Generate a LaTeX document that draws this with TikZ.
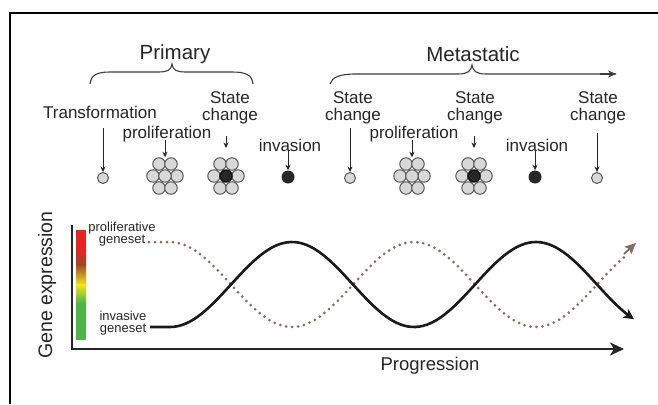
\documentclass[tikz,border=0pt]{standalone}
\usepackage{fontspec}
\setmainfont{Liberation Sans}
\usetikzlibrary{arrows.meta}
\definecolor{txt}{HTML}{262626}
\definecolor{cellfill}{HTML}{D8D8D8}
\definecolor{cellline}{HTML}{4A4A4A}
\definecolor{dotcol}{HTML}{7F6F69}
\definecolor{barred}{HTML}{E52420}
\definecolor{barbrown}{HTML}{9C4A22}
\definecolor{baryellow}{HTML}{F2E41E}
\definecolor{bargreen}{HTML}{4DB548}
\tikzset{
  lbl/.style={font=\fontsize{17}{17}\selectfont, text=txt, inner sep=0pt, align=center},
  big/.style={font=\fontsize{20.5}{20}\selectfont, text=txt, inner sep=0pt},
  small/.style={font=\fontsize{13}{12.5}\selectfont, text=txt, inner sep=0pt, align=center},
  cell/.style={circle, draw=cellline, fill=cellfill, line width=0.9pt, minimum size=12.5pt, inner sep=0pt},
  blackcell/.style={circle, draw=black, fill=black!85, line width=0.9pt, minimum size=12.5pt, inner sep=0pt},
  blackdot/.style={circle, fill=black!85, minimum size=13pt, inner sep=0pt},
  pointer/.style={draw=txt, line width=1pt, -{Stealth[length=5.5pt,width=5pt]}},
  brace/.style={draw=txt!90, line width=1.1pt},
  axis/.style={line width=2.8pt, draw=black!85},
}
\newcommand{\cluster}[3]{% name, x, y
  \foreach \dx/\dy/\k in {-6/-12/a, 6/-12/b, -12/0/c, 12/0/e, -6/12/f, 6/12/g}{
    \node[cell] (#1\k) at (#2+\dx, #3+\dy) {};
  }
}
\begin{document}
\begin{tikzpicture}[x=1pt, y=-1pt]
\useasboundingbox (0,0) rectangle (658,404);
\fill[white] (0,0) rectangle (658,404);
% frame
\draw[line width=1.4pt, black] (658,13) -- (10,13) -- (10,404);

% headings
\node[big] (primary) at (175,54) {Primary};
\node[big] (metastatic) at (473,54) {Metastatic};

% braces
\draw[brace] (90,84) .. controls (91,75) and (97,72) .. (110,72) -- (158,72)
  .. controls (168,72) and (171,70) .. (172,64)
  .. controls (173,70) and (176,72) .. (186,72) -- (232,72)
  .. controls (246,72) and (252,75) .. (253,84);
\coordinate (metaend) at (616,74);
\draw[brace] (330,84) .. controls (332,77) and (340,74) .. (356,74) -- (458,74)
  .. controls (468,74) and (471,71) .. (472,65)
  .. controls (473,71) and (476,74) .. (486,74) -- (metaend);
\draw[brace, -{Stealth[length=8pt,width=7pt]}] (600,74) -- (metaend);

% labels
\node[lbl] (transf) at (100,112) {Transformation};
\node[lbl] (prolif1) at (167,134) {proliferation};
\node[lbl] (state1) at (230,108) {State\\change};
\node[lbl] (inv1) at (290,145) {invasion};
\node[lbl] (state2) at (353,108) {State\\change};
\node[lbl] (prolif2) at (414,134) {proliferation};
\node[lbl] (state3) at (475,108) {State\\change};
\node[lbl] (inv2) at (537,145) {invasion};
\node[lbl] (state4) at (598,108) {State\\change};

% cells
\node[cell, minimum size=11pt] (c1) at (103,178) {};
\cluster{k1}{165}{176}
\node[cell] (k1d) at (165,176) {};
\cluster{k2}{226}{176}
\node[blackcell] (k2d) at (226,176) {};
\node[blackdot] (d1) at (288,177) {};
\node[cell, minimum size=11pt] (c2) at (350,178) {};
\cluster{k3}{412}{176}
\node[cell] (k3d) at (412,176) {};
\cluster{k4}{474}{176}
\node[blackcell] (k4d) at (474,176) {};
\node[blackdot] (d2) at (535,177) {};
\node[cell, minimum size=11pt] (c3) at (597,178) {};

% pointers
\coordinate (p1) at (103,128);
\draw[pointer] (p1) -- (c1.north);
\coordinate (p2) at (165,140);
\draw[pointer] (p2) -- (k1a.north -| p2);
\coordinate (p3) at (226,136);
\coordinate (q3) at (226,148);
\draw[pointer] (p3) -- (q3);
\coordinate (p4) at (288,150);
\draw[pointer] (p4) -- (d1.north);
\coordinate (p5) at (350,128);
\draw[pointer] (p5) -- (c2.north);
\coordinate (p6) at (412,140);
\draw[pointer] (p6) -- (k3a.north -| p6);
\coordinate (p7) at (474,136);
\coordinate (q7) at (474,148);
\draw[pointer] (p7) -- (q7);
\coordinate (p8) at (535,150);
\draw[pointer] (p8) -- (d2.north);
\coordinate (p9) at (597,133);
\draw[pointer] (p9) -- (c3.north);

% colour bar
\fill[barred] (76,230) rectangle (86,250);
\shade[top color=barred, bottom color=barbrown] (76,249.5) rectangle (86,265);
\shade[top color=barbrown, bottom color=baryellow] (76,264.5) rectangle (86,285);
\shade[top color=baryellow, bottom color=bargreen] (76,284.5) rectangle (86,303);
\fill[bargreen] (76,302.5) rectangle (86,340);

% axes
\coordinate (origin) at (72,349);
\coordinate (ytop) at (72,225);
\coordinate (xend) at (624,349);
\draw[axis, -{Stealth[length=14pt,width=13pt,inset=4pt]}] (ytop) -- (origin) -- (xend);
\node[font=\fontsize{18.5}{18}\selectfont, text=txt, inner sep=0pt] (prog) at (430,366) {Progression};
\node[font=\fontsize{19.5}{19}\selectfont, text=txt, inner sep=0pt, rotate=90] (gexp) at (47,285) {Gene expression};

% geneset labels
\node[small] (prolset) at (122,234) {proliferative\\geneset};
\node[small] (invset) at (123,323) {invasive\\geneset};

% dotted proliferative curve
\coordinate (dstart) at (149,242);
\coordinate (dflat) at (170,242);
\draw[dotcol, line width=3pt, dash pattern=on 0pt off 6pt, line cap=round]
  (dstart) -- (dflat)
  -- plot[domain=170:628, samples=120] (\x, {284.5-42.5*cos((\x-170)/122*180)});
\coordinate (dtipa) at (624,254);
\coordinate (dtip) at (636,243);
\draw[dotcol, line width=1.8pt, -{Stealth[length=11pt,width=10pt,inset=2pt]}] (dtipa) -- (dtip);

% solid invasive curve
\coordinate (sstart) at (150,327);
\coordinate (sflat) at (170,327);
\draw[black!90, line width=2.6pt, line join=round, -{Stealth[length=10pt,width=10pt,inset=2pt]}]
  (sstart) -- (sflat)
  -- plot[domain=170:634, samples=120] (\x, {284.5+42.5*cos((\x-170)/122*180)});
\end{tikzpicture}
\end{document}
